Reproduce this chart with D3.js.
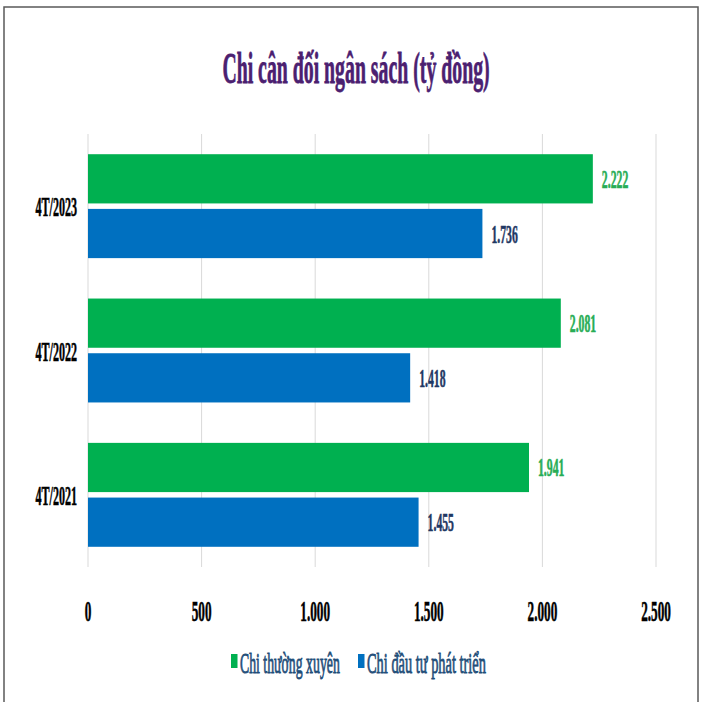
<!DOCTYPE html>
<html>
<head>
<meta charset="utf-8">
<script src="https://cdn.jsdelivr.net/npm/d3@7"></script>
<style>
  body { margin: 0; background: #fff; }
  svg { display: block; }
  text { font-family: "Liberation Serif", "Times New Roman", serif; }
</style>
</head>
<body>
<div id="vizholder"></div>
<script>
// data
var categories = ["4T/2023", "4T/2022", "4T/2021"];
var seriesNames = ["Chi thường xuyên", "Chi đầu tư phát triển"];
var thuongXuyen = [2222, 2081, 1941];
var dauTu = [1736, 1418, 1455];
var tickValues = [0, 500, 1000, 1500, 2000, 2500];

var colors = ["#00b050", "#0070c0"];
var labelColors = ["#27ad55", "#1f3864"];

var width = 713, height = 702;
var margin = {top: 134, right: 57, bottom: 135, left: 88};
var squish = 0.45; // text in the picture is narrowed horizontally

var fmt = function(v) { return d3.format(",")(v).replace(/,/g, "."); };

var svg = d3.select("#vizholder").append("svg")
    .attr("width", width)
    .attr("height", height);

// outer frame
svg.append("rect")
    .attr("x", 4).attr("y", 7)
    .attr("width", 694).attr("height", 710)
    .attr("fill", "none")
    .attr("stroke", "#595959")
    .attr("stroke-width", 1.5);

// draw narrowed text: a group holds position and the x-squish
function sqText(parent, x, y, str, opts) {
  var g = parent.append("g")
      .attr("transform", "translate(" + x + "," + y + ") scale(" + (opts.sx || squish) + ",1)");
  var fill = opts.fill || "#000";
  return g.append("text")
      .attr("text-anchor", opts.anchor || "start")
      .style("font-size", opts.size + "px")
      .style("font-weight", opts.weight || "bold")
      .attr("fill", fill)
      .attr("stroke", fill)
      .attr("stroke-width", opts.sw || 0.6)
      .text(str);
}

var plotW = width - margin.left - margin.right;
var plotH = height - margin.top - margin.bottom;

var x = d3.scaleLinear().domain([0, 2500]).range([margin.left, margin.left + plotW]);
var y0 = d3.scaleBand().domain(categories)
    .range([margin.top, margin.top + plotH])
    .paddingInner(0.28).paddingOuter(0.14);
var y1 = d3.scaleBand().domain([0, 1]).range([0, y0.bandwidth()]).paddingInner(0.1);

// title
sqText(svg, 356, 83, "Chi cân đối ngân sách (tỷ đồng)",
  {size: 45, anchor: "middle", fill: "#4b2070", sx: 0.44, sw: 0.8});

// gridlines
svg.append("g").selectAll("line")
  .data(tickValues)
  .enter().append("line")
    .attr("x1", function(d) { return x(d); })
    .attr("x2", function(d) { return x(d); })
    .attr("y1", margin.top)
    .attr("y2", margin.top + plotH)
    .attr("stroke", "#d9d9d9")
    .attr("stroke-width", 1);

// tick labels
tickValues.forEach(function(t) {
  sqText(svg, x(t), 621, fmt(t), {size: 30, anchor: "middle", sx: 0.44});
});

var series = [thuongXuyen, dauTu];

categories.forEach(function(cat, i) {
  var gy = y0(cat);
  series.forEach(function(vals, s) {
    var by = gy + y1(s);
    svg.append("rect")
      .attr("x", x(0))
      .attr("y", by)
      .attr("width", x(vals[i]) - x(0))
      .attr("height", y1.bandwidth())
      .attr("fill", colors[s]);
    sqText(svg, x(vals[i]) + 9, by + y1.bandwidth() / 2 + 9, fmt(vals[i]),
      {size: 25, fill: labelColors[s], sx: 0.47});
  });
  sqText(svg, 77, gy + y0.bandwidth() / 2 + 10, cat, {size: 28, anchor: "end", sx: 0.43});
});

// legend
var legX = [231, 358];
var legSx = [0.46, 0.48];
seriesNames.forEach(function(name, s) {
  svg.append("rect")
    .attr("x", legX[s]).attr("y", 654)
    .attr("width", 6.5).attr("height", 14)
    .attr("fill", colors[s]);
  sqText(svg, legX[s] + 9, 673, name,
    {size: 30, weight: "normal", fill: "#1f4e79", sx: legSx[s], sw: 0.9});
});
</script>
</body>
</html>
